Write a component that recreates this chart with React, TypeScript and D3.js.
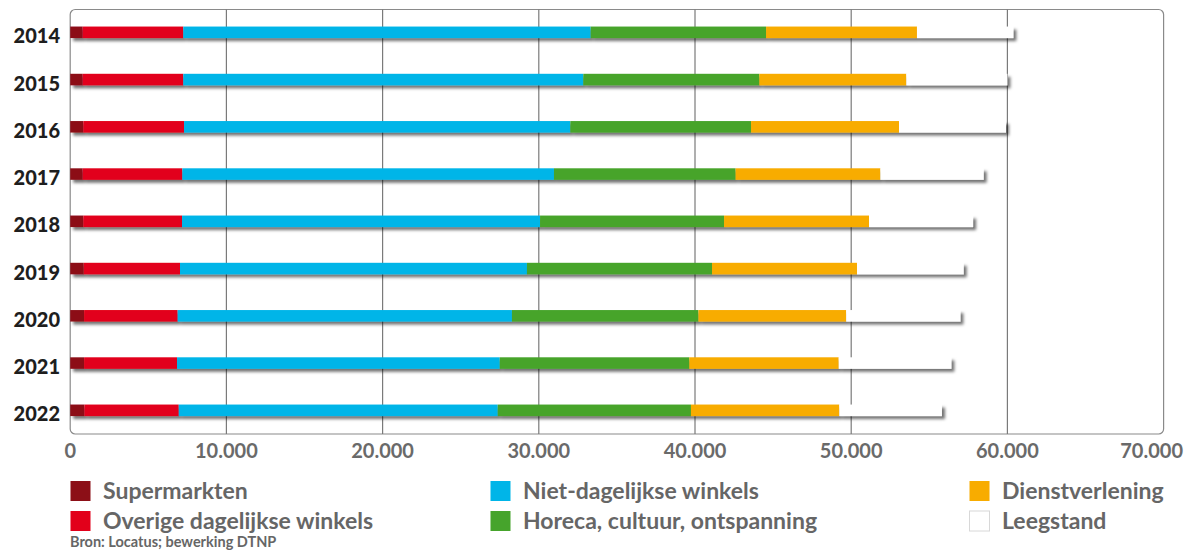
import React from "react";
import * as d3 from "d3";

const years = ["2014", "2015", "2016", "2017", "2018", "2019", "2020", "2021", "2022"];
const categories = [
  "Supermarkten",
  "Overige dagelijkse winkels",
  "Niet-dagelijkse winkels",
  "Horeca, cultuur, ontspanning",
  "Dienstverlening",
  "Leegstand",
];
const supermarkten = [800, 800, 840, 800, 840, 870, 890, 890, 910];
const overige = [6440, 6440, 6450, 6380, 6320, 6160, 5990, 5950, 6040];
const nietDagelijks = [26080, 25610, 24730, 23790, 22920, 22210, 21400, 20660, 20420];
const horeca = [11230, 11270, 11570, 11630, 11780, 11850, 11940, 12140, 12370];
const dienstverlening = [9660, 9410, 9470, 9270, 9280, 9280, 9460, 9560, 9500];
const leegstand = [6170, 6470, 6850, 6610, 6660, 6830, 7310, 7210, 6570];
const xTicks = [0, 10000, 20000, 30000, 40000, 50000, 60000, 70000];
const colors = ["#8c0f17", "#e2001a", "#00b5e8", "#46a42c", "#f8ac00", "#ffffff"];
const source = "Bron: Locatus; bewerking DTNP";

const W = 1187;
const H = 551;
const FONT = "Lato, 'Open Sans', sans-serif";

export default function App() {
  const x = d3.scaleLinear().domain([0, 70000]).range([70.2, 1163.6]);
  const y = d3.scalePoint<string>().domain(years).range([32.3, 410.3]);
  const barH = 11.5;
  const seriesValues = [supermarkten, overige, nietDagelijks, horeca, dienstverlening, leegstand];
  const table = years.map((yr, i) => {
    const row: Record<string, number | string> = { year: yr };
    categories.forEach((c, k) => (row[c] = seriesValues[k][i]));
    return row;
  });
  const stacked = d3.stack<Record<string, number | string>>().keys(categories)(table as any);
  const fmt = (v: number) => d3.format(",")(v).replace(/,/g, ".");
  const top = 9.5;
  const bottom = 434;

  const legendCols = [70, 490, 969];
  const legendRows = [491, 521];

  return (
    <svg
      width={W}
      height={H}
      style={{ position: "absolute", left: 0, top: 0, background: "#fff" }}
      fontFamily={FONT}
    >
      <defs>
        <filter id="shadow" x="-5%" y="-100%" width="110%" height="300%">
          <feDropShadow dx="3" dy="3" stdDeviation="1.8" floodColor="#000" floodOpacity="0.55" />
        </filter>
      </defs>
      {/* frame */}
      <rect
        x={x(0)}
        y={top}
        width={x(70000) - x(0)}
        height={bottom - top}
        rx={5}
        fill="#fff"
        stroke="#8a8a8a"
        strokeWidth={1.2}
      />
      {xTicks.slice(1, -1).map((t) => (
        <line key={t} x1={x(t)} x2={x(t)} y1={top} y2={bottom} stroke="#7a7a7a" strokeWidth={1.2} />
      ))}
      {/* bars */}
      {years.map((yr, i) => (
        <g key={yr} filter="url(#shadow)">
          {stacked.map((s, k) => (
            <rect
              key={k}
              x={x(s[i][0])}
              y={(y(yr) as number) - barH / 2}
              width={x(s[i][1]) - x(s[i][0])}
              height={barH}
              fill={colors[k]}
            />
          ))}
        </g>
      ))}
      {/* year labels */}
      {years.map((yr) => (
        <text
          key={yr}
          x={60}
          y={(y(yr) as number) + 11}
          textAnchor="end"
          fontSize={20}
          fontWeight={900}
          fill="#1e1e1e"
        >
          {yr}
        </text>
      ))}
      {/* x tick labels */}
      {xTicks.map((t, i) => (
        <text
          key={t}
          x={i === xTicks.length - 1 ? 1183 : x(t)}
          y={458}
          textAnchor={i === xTicks.length - 1 ? "end" : "middle"}
          fontSize={20}
          fontWeight={700}
          fill="#6a6a6a"
        >
          {fmt(t)}
        </text>
      ))}
      {/* legend */}
      {categories.map((c, k) => {
        const col = Math.floor(k / 2);
        const row = k % 2;
        const lx = legendCols[col];
        const ly = legendRows[row];
        return (
          <g key={c}>
            <rect
              x={lx + 0.5}
              y={ly - 10}
              width={20}
              height={20}
              fill={colors[k]}
              stroke={k === 5 ? "#d8d8d8" : "none"}
              strokeWidth={1}
            />
            <text x={lx + 33} y={ly + 8} fontSize={23} fontWeight={700} fill="#666666">
              {c}
            </text>
          </g>
        );
      })}
      <text x={70} y={547} fontSize={14.5} fontWeight={700} fill="#666666">
        {source}
      </text>
    </svg>
  );
}
